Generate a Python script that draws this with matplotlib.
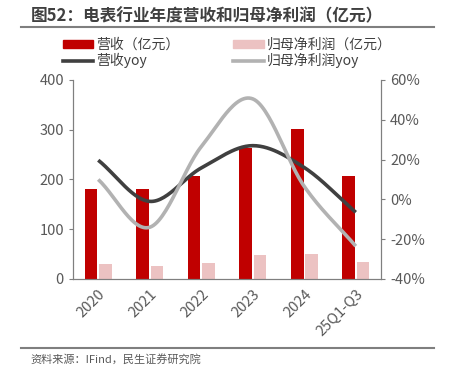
"""电表行业年度营收和归母净利润"""
import numpy as np
import matplotlib
matplotlib.use('Agg')
from matplotlib import pyplot as plt
from matplotlib.lines import Line2D

plt.rcParams['font.family'] = ['Noto Sans CJK SC', 'DejaVu Sans']

# 数据
categories = ['2020', '2021', '2022', '2023', '2024', '25Q1-Q3']
revenue = [181, 180, 207, 264, 301, 207]          # 营收（亿元）
profit = [31, 26, 33, 49, 51, 34]                  # 归母净利润（亿元）
revenue_yoy = [19.7, -1.0, 15.8, 27.0, 16.0, -6.5]     # 营收yoy (%)
profit_yoy = [10.0, -14.0, 26.5, 50.5, 6.5, -23.5]     # 归母净利润yoy (%)


def smooth(xs, ys, n=30):
    """Catmull-Rom 平滑曲线，类似 Excel 的平滑线"""
    xs = np.asarray(xs, float)
    ys = np.asarray(ys, float)
    px = np.concatenate([[2 * xs[0] - xs[1]], xs, [2 * xs[-1] - xs[-2]]])
    py = np.concatenate([[2 * ys[0] - ys[1]], ys, [2 * ys[-1] - ys[-2]]])
    outx, outy = [], []
    t = np.linspace(0, 1, n)
    for i in range(1, len(px) - 2):
        for p, out in ((px, outx), (py, outy)):
            p0, p1, p2, p3 = p[i - 1], p[i], p[i + 1], p[i + 2]
            out.extend(0.5 * (2 * p1 + (-p0 + p2) * t
                              + (2 * p0 - 5 * p1 + 4 * p2 - p3) * t ** 2
                              + (-p0 + 3 * p1 - 3 * p2 + p3) * t ** 3))
    return np.array(outx), np.array(outy)


fig = plt.figure(figsize=(4.49, 3.8), dpi=100)
ax = fig.add_axes([0.1626, 0.2658, 0.686, 0.5237])
ax2 = ax.twinx()

x = np.arange(len(categories))
red = '#C00000'
pink = '#ECC2C2'
ax.bar(x - 0.14, revenue, width=0.25, color=red, zorder=2)
ax.bar(x + 0.14, profit, width=0.25, color=pink, zorder=2)

sx, sy = smooth(x, revenue_yoy)
ax2.plot(sx, sy, color='#404040', lw=2.6, solid_capstyle='butt')
sx, sy = smooth(x, profit_yoy)
ax2.plot(sx, sy, color='#B2B2B2', lw=2.6, solid_capstyle='butt')

ax.set_xlim(-0.49, 5.49)
ax.set_ylim(0, 400)
ax.set_yticks([0, 100, 200, 300, 400])
ax2.set_ylim(-40, 60)
ax2.set_yticks([-40, -20, 0, 20, 40, 60])
ax2.set_yticklabels([f'{v}%' for v in [-40, -20, 0, 20, 40, 60]])

ax.set_xticks(x)
ax.set_xticklabels(categories, rotation=45, ha='right', rotation_mode='anchor')

tick_color = '#595959'
spine_color = '#7F7F7F'
for a in (ax, ax2):
    a.spines['top'].set_visible(False)
    for s in ('left', 'right', 'bottom'):
        a.spines[s].set_color(spine_color)
    a.tick_params(axis='y', colors=spine_color, labelcolor=tick_color,
                  labelsize=10.5, length=3, direction='out')
ax.tick_params(axis='x', length=0, labelcolor=tick_color, labelsize=10.5, pad=6)

# 图例（按列填充：第一列营收，第二列归母净利润）
handles = [
    plt.Rectangle((0, 0), 1, 1, color=red),
    Line2D([], [], color='#404040', lw=2.6),
    plt.Rectangle((0, 0), 1, 1, color=pink),
    Line2D([], [], color='#B2B2B2', lw=2.6),
]
labels = ['营收（亿元）', '营收yoy', '归母净利润（亿元）', '归母净利润yoy']
fig.legend(handles, labels, loc='upper left', bbox_to_anchor=(0.127, 0.915),
           ncol=2, frameon=False, fontsize=10, handlelength=2.2,
           handleheight=0.6, handletextpad=0.2, columnspacing=3.9,
           labelspacing=0.1, labelcolor='#404040', borderaxespad=0)

# 标题和来源
fig.text(0.068, 0.958, '图52：电表行业年度营收和归母净利润（亿元）',
         fontsize=12, fontweight='bold', color='#404040', va='center')
fig.add_artist(Line2D([0.046, 0.967], [0.929, 0.929], color='#7F7F7F', lw=1.5))
fig.add_artist(Line2D([0.046, 0.967], [0.085, 0.085], color='#7F7F7F', lw=1.5))
fig.text(0.067, 0.055, '资料来源：IFind，民生证券研究院', fontsize=8,
         color='#595959', va='center')

plt.savefig('out.png', dpi=100)
